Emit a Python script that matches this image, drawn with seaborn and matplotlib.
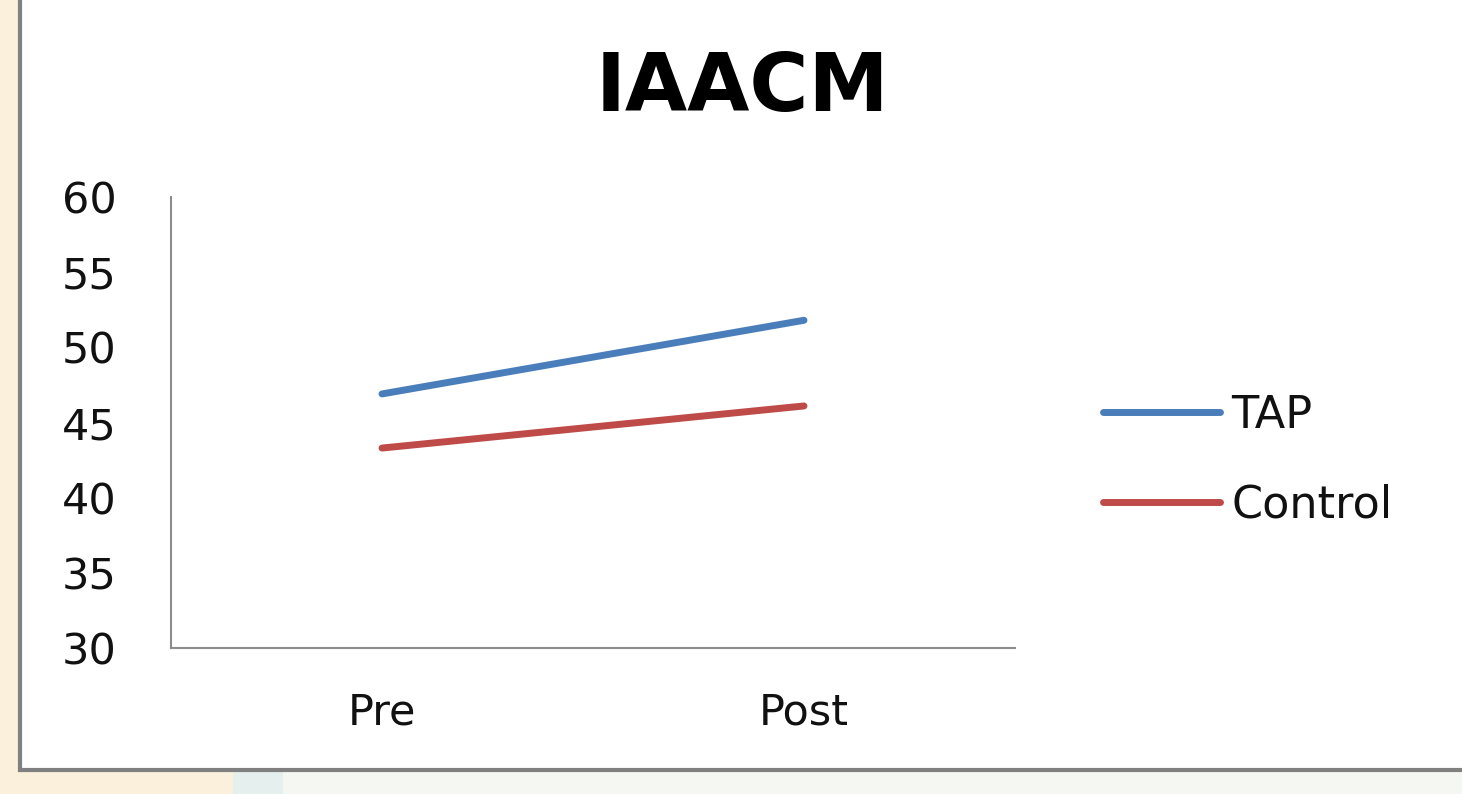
import matplotlib
matplotlib.use("Agg")
import matplotlib.pyplot as plt
import pandas as pd
import seaborn as sns
from matplotlib.patches import Rectangle

# Données
phases = ["Pre", "Post"]
tap_scores = [46.9, 51.8]
control_scores = [43.3, 46.1]
groups = ["TAP", "Control"]
y_ticks = [30, 35, 40, 45, 50, 55, 60]

df = pd.DataFrame({
    "phase": phases * 2,
    "score": tap_scores + control_scores,
    "groupe": [groups[0]] * len(phases) + [groups[1]] * len(phases),
})

sns.set_style("white")
plt.rcParams["font.family"] = ["DejaVu Sans"]

W, H = 1462, 794
fig = plt.figure(figsize=(W / 100, H / 100), dpi=100)
fig.patch.set_facecolor("#f5f7f3")


def px_rect(x0, y0, x1, y1, **kw):
    # rectangle en pixels (origine en haut à gauche)
    return Rectangle((x0 / W, 1 - y1 / H), (x1 - x0) / W, (y1 - y0) / H,
                     transform=fig.transFigure, figure=fig, **kw)


# fond : bande beige à gauche, bandes en bas, panneau blanc encadré
fig.patches.append(px_rect(0, 0, 20, H, facecolor="#fbf0dc", edgecolor="none", zorder=-3))
fig.patches.append(px_rect(0, 770, 233, H, facecolor="#fbf0dc", edgecolor="none", zorder=-3))
fig.patches.append(px_rect(233, 770, 283, H, facecolor="#e4efee", edgecolor="none", zorder=-3))
fig.patches.append(px_rect(20, -10, W + 10, 770, facecolor="white",
                           edgecolor="#808080", linewidth=3, zorder=-2))

ax = fig.add_axes([171 / W, 1 - 648 / H, (1015 - 171) / W, (648 - 197) / H])
ax.set_facecolor("none")
ax.set_zorder(2)

sns.lineplot(
    data=df, x="phase", y="score", hue="groupe",
    palette={"TAP": "#4a7ebb", "Control": "#be4b48"},
    linewidth=5, ax=ax, legend=True,
)

ax.set_xlim(-0.5, 1.5)
ax.set_ylim(30, 60)
ax.set_yticks(y_ticks)
ax.set_yticklabels([str(v) for v in y_ticks], va="center_baseline")
ax.set_xlabel("")
ax.set_ylabel("")
ax.tick_params(axis="y", length=0, pad=39, labelsize=31, labelcolor="#111111")
ax.tick_params(axis="x", length=0, pad=31, labelsize=31, labelcolor="#111111")

sns.despine(ax=ax)
for side in ["left", "bottom"]:
    ax.spines[side].set_color("#8c8c8c")
    ax.spines[side].set_linewidth(1.5)

for line in ax.get_lines():
    line.set_solid_capstyle("round")

leg = ax.legend(
    loc="center left", bbox_to_anchor=(1103 / W, 1 - 460 / H),
    bbox_transform=fig.transFigure, frameon=False, fontsize=32,
    borderpad=0, borderaxespad=0,
    handlelength=2.63, handletextpad=0.25, labelspacing=1.05,
)
for h in leg.legend_handles:
    h.set_linewidth(5)
    h.set_solid_capstyle("round")
for t in leg.get_texts():
    t.set_color("#111111")

fig.text(742 / W, 1 - 89 / H, "IAACM", ha="center", va="center",
         fontsize=58, fontweight="bold", color="black")

fig.savefig("out.png", dpi=100, facecolor=fig.get_facecolor())
